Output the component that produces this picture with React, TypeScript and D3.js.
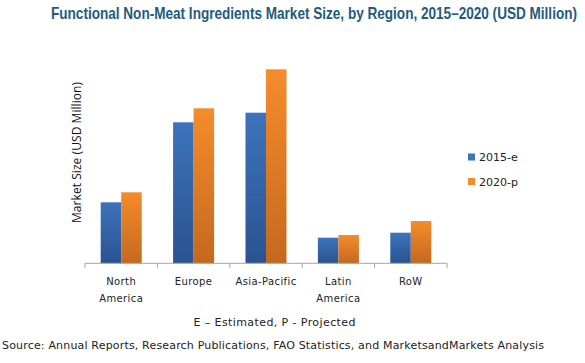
import React from 'react'
import * as d3 from 'd3'

const regions = ['North America', 'Europe', 'Asia-Pacific', 'Latin America', 'RoW']
const categoryLines = [['North', 'America'], ['Europe'], ['Asia-Pacific'], ['Latin', 'America'], ['RoW']]
const seriesNames = ['2015-e', '2020-p']
const values2015 = [61, 141, 150.6, 25.6, 30.6]
const values2020 = [71, 155, 194, 28.3, 42.3]

const W = 585
const H = 363
const margin = { left: 85, right: 138, top: 69.3, bottom: 99.7 }
const colors = [
  ['#3d73bb', '#2a5390'],
  ['#f58c2c', '#c5681f'],
]

export default function App() {
  const x = d3
    .scaleBand<string>()
    .domain(regions)
    .range([margin.left, W - margin.right])
    .paddingInner(0)
  const inner = d3
    .scaleBand<string>()
    .domain(seriesNames)
    .range([0, x.bandwidth()])
    .paddingOuter(0.765)
    .paddingInner(0)
  const baseY = H - margin.bottom
  const y = d3.scaleLinear().domain([0, 194]).range([baseY, margin.top])
  const series = [values2015, values2020]
  const ticks = regions.map(r => x(r) as number).concat([W - margin.right])

  return (
    <svg width={W} height={H} style={{ position: 'absolute', left: 0, top: 0, background: '#fff' }}>
      <defs>
        {colors.map((c, i) => (
          <linearGradient id={'g' + i} key={i} x1="0" y1="0" x2="0" y2="1">
            <stop offset="0" stopColor={c[0]} />
            <stop offset="1" stopColor={c[1]} />
          </linearGradient>
        ))}
      </defs>
      <g transform="translate(51,19) scale(0.8,1)">
        <text
          x={0}
          y={0}
          textLength={526 / 0.8}
          lengthAdjust="spacingAndGlyphs"
          fill="#1f5b7b"
          fontFamily="'Liberation Sans', Arial, sans-serif"
          fontWeight="bold"
          fontSize={16.5}
        >
          Functional Non-Meat Ingredients Market Size, by Region, 2015–2020 (USD Million)
        </text>
      </g>
      <text
        transform={`translate(81,152.5)rotate(-90)`}
        textAnchor="middle"
        textLength={141}
        fontFamily="'Open Sans', 'Liberation Sans', sans-serif"
        fontSize={12}
        fill="#111"
      >
        Market Size (USD Million)
      </text>
      {series.map((vals, si) =>
        regions.map((r, ri) => (
          <rect
            key={r + si}
            x={(x(r) as number) + (inner(seriesNames[si]) as number)}
            y={y(vals[ri])}
            width={inner.bandwidth()}
            height={baseY - y(vals[ri])}
            fill={`url(#g${si})`}
          />
        ))
      )}
      <line x1={margin.left} x2={W - margin.right} y1={baseY} y2={baseY} stroke="#a6a6a6" />
      {ticks.map((t, i) => (
        <line key={i} x1={t} x2={t} y1={baseY} y2={baseY + 5} stroke="#a6a6a6" />
      ))}
      {categoryLines.map((lines, i) => (
        <text
          key={i}
          x={(x(regions[i]) as number) + x.bandwidth() / 2}
          textAnchor="middle"
          fontFamily="'DejaVu Sans', Verdana, sans-serif"
          fontSize={10}
          letterSpacing={0.4}
          fill="#222"
        >
          {lines.map((l, j) => (
            <tspan key={j} x={(x(regions[i]) as number) + x.bandwidth() / 2} y={285 + j * 17}>
              {l}
            </tspan>
          ))}
        </text>
      ))}
      {seriesNames.map((s, i) => (
        <g key={s} transform={`translate(468,${153.5 + i * 24.5})`}>
          <rect width={7} height={7} fill={colors[i][0]} />
          <text
            x={11}
            y={7.5}
            fontFamily="'DejaVu Sans', Verdana, sans-serif"
            fontSize={11}
            fill="#222"
          >
            {s}
          </text>
        </g>
      ))}
      <text
        x={274.5}
        y={325.5}
        textAnchor="middle"
        textLength={162}
        fontFamily="'DejaVu Sans', Verdana, sans-serif"
        fontSize={11}
        fill="#222"
      >
        E – Estimated, P - Projected
      </text>
      <text
        x={2}
        y={349}
        textLength={542}
        fontFamily="'DejaVu Sans', Verdana, sans-serif"
        fontSize={11}
        fill="#222"
      >
        Source: Annual Reports, Research Publications, FAO Statistics, and MarketsandMarkets Analysis
      </text>
    </svg>
  )
}
